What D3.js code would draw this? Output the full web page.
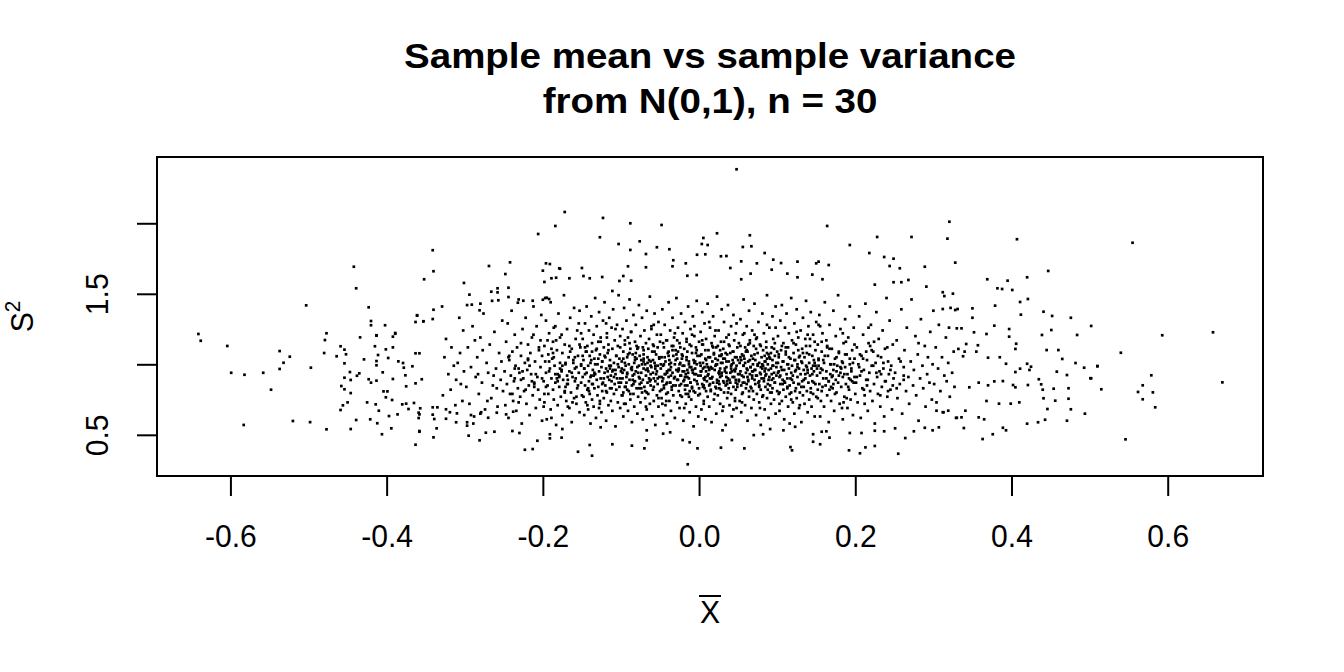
<!DOCTYPE html>
<html>
<head>
<meta charset="utf-8">
<script src="https://cdn.jsdelivr.net/npm/d3@7"></script>
<style>
  body { margin: 0; background: #fff; }
  svg text { font-family: "Liberation Sans", Arial, Helvetica, sans-serif; }
</style>
</head>
<body>
<div id="chart"></div>
<script>
// ---- data (sample mean, sample variance) ----
const titleLines = ["Sample mean vs sample variance", "from N(0,1), n = 30"];
const xTicks = [-0.6, -0.4, -0.2, 0, 0.2, 0.4, 0.6];
const xTickLabels = ["-0.6", "-0.4", "-0.2", "0.0", "0.2", "0.4", "0.6"];
const yTicks = [0.5, 1, 1.5, 2];
const yTickLabels = ["0.5", "", "1.5", ""];

const leftTail = [[-0.641,1.215],[-0.638,1.167],[-0.604,1.13],[-0.599,0.94],[-0.582,0.926],[-0.583,0.57],[-0.558,0.94],[-0.548,0.82],[-0.537,1.094],[-0.532,1.011],[-0.524,1.054],[-0.537,0.967],[-0.520,0.598],[-0.503,1.418],[-0.498,0.59],[-0.497,0.976],[-0.477,1.22],[-0.479,1.172],[-0.480,1.08],[-0.477,0.539],[-0.464,1.057],[-0.459,1.128],[-0.454,1.104],[-0.452,1.071],[-0.454,1.007],[-0.447,0.945],[-0.435,0.936],[-0.438,0.919],[-0.454,0.905],[-0.446,0.889],[-0.458,0.846],[-0.454,0.823],[-0.446,0.796],[-0.450,0.730],[-0.456,0.709],[-0.459,0.676],[-0.439,0.605],[-0.446,0.541],[-0.442,1.692],[-0.439,1.539],[-0.423,1.404],[-0.434,1.191],[-0.429,1.035],[-0.420,1.307],[-0.420,1.277],[-0.402,1.277],[-0.413,1.206],[-0.415,1.128],[-0.401,1.106],[-0.411,1.066],[-0.398,1.045],[-0.389,1.222],[-0.392,1.196],[-0.392,1.12],[-0.413,1.023],[-0.413,0.993],[-0.405,0.943],[-0.423,0.894],[-0.420,0.870],[-0.413,0.884],[-0.392,0.896],[-0.404,0.808],[-0.399,0.808],[-0.401,0.766],[-0.393,0.747],[-0.425,0.730],[-0.414,0.716],[-0.410,0.671],[-0.397,0.633],[-0.386,0.645],[-0.421,0.610],[-0.412,0.582],[-0.406,0.504],[-0.394,0.546],[-0.385,1.021],[-0.379,1.009],[-0.378,0.976],[-0.376,0.922],[-0.367,0.986],[-0.375,0.844],[-0.380,0.716],[-0.375,0.721],[-0.372,0.683],[-0.365,0.726],[-0.361,1.348],[-0.363,1.30],[-0.352,1.603],[-0.341,1.809],[-0.340,1.66],[-0.340,1.387],[-0.363,1.078],[-0.358,1.078],[-0.363,0.865],[-0.355,0.894],[-0.359,0.657],[-0.359,0.619],[-0.358,0.522],[-0.363,0.43],[-0.340,0.482],[-0.336,0.546],[-0.335,0.695],[-0.341,0.643],[-0.353,1.305],[-0.341,1.321],[-0.358,0.645],[-0.357,0.688],[-0.341,0.695],[-0.339,0.612],[-0.358,0.527]];

const upperTail = [[-0.184,1.981],[-0.206,1.924],[-0.242,1.723],[-0.269,1.697],[-0.248,1.64],[-0.301,1.577],[-0.196,1.716],[-0.191,1.711],[-0.2,1.664],[-0.179,1.681],[-0.198,1.584],[-0.183,1.614],[-0.258,1.539],[-0.258,1.51],[-0.266,1.515],[-0.244,1.543],[-0.244,1.477],[-0.294,1.494],[-0.291,1.423],[-0.280,1.43],[-0.281,1.383],[-0.257,1.454],[-0.232,1.437],[-0.225,1.451],[-0.213,1.451],[-0.2,1.458],[-0.195,1.472],[-0.192,1.463],[-0.361,1.345],[-0.353,1.305],[-0.389,1.217],[-0.413,1.203],
[0.048,2.383],[-0.172,2.08],[-0.123,2.038],[-0.088,2.0],[-0.048,1.988],[0.164,1.981],[0.023,1.929],[0.065,1.915],[0.0055,1.896],[-0.127,1.901],[-0.076,1.872],[-0.103,1.853],[-0.088,1.811],[-0.068,1.782],[-0.054,1.83],[-0.038,1.816],[0.0035,1.853],[0.011,1.846],[-0.0026,1.777],[0.008,1.78],[0.028,1.766],[0.035,1.768],[0.056,1.832],[0.067,1.837],[0.084,1.789],[0.095,1.742],[0.105,1.718],[0.126,1.728],[0.15,1.716],[0.153,1.728],[0.166,1.704],[-0.178,1.678],[-0.15,1.683],[-0.148,1.626],[-0.091,1.695],[-0.068,1.688],[-0.033,1.738],[-0.034,1.695],[-0.017,1.716],[-0.015,1.628],[-0.003,1.633],[0.040,1.683],[0.054,1.73],[0.066,1.643],[0.054,1.603],[0.074,1.716],[0.093,1.671],[0.113,1.643],[0.126,1.617],[0.145,1.636],[0.158,1.603],[-0.097,1.626],[-0.124,1.619],[-0.14,1.61],[-0.166,1.61],[-0.189,1.61],[-0.087,1.593],[-0.111,1.52],[-0.102,1.591],
[0.193,1.846],[0.218,1.789],[0.237,1.761],[0.249,1.749],[0.244,1.697],[0.257,1.681],[0.289,1.692],[0.272,1.903],[0.228,1.903],[0.259,1.582],[0.249,1.582],[0.268,1.598],[0.225,1.565],[0.291,1.551],[0.312,1.511],[0.314,1.484],[0.325,1.501],[0.3205,2.011],[0.318,1.891],[0.328,1.721]];

const rightTail = [[0.407,1.887],[0.447,1.662],[0.420,1.617],[0.369,1.603],[0.395,1.593],[0.382,1.539],[0.388,1.534],[0.401,1.527],[0.421,1.463],[0.411,1.442],[0.379,1.416],[0.331,1.392],[0.328,1.385],[0.312,1.392],[0.300,1.38],[0.350,1.397],[0.350,1.33],[0.412,1.352],[0.441,1.373],[0.452,1.343],[0.476,1.33],[0.502,1.272],[0.484,1.208],[0.451,1.243],[0.439,1.208],[0.397,1.25],[0.378,1.274],[0.368,1.215],[0.352,1.227],[0.336,1.255],[0.330,1.255],[0.320,1.26],[0.397,1.196],[0.406,1.146],[0.405,1.109],[0.342,1.144],[0.357,1.135],[0.332,1.109],[0.340,1.09],[0.355,1.09],[0.338,1.057],[0.370,1.047],[0.385,1.05],[0.393,1.004],[0.420,1.004],[0.411,0.969],[0.425,0.983],[0.423,0.96],[0.405,0.945],[0.445,1.101],[0.460,1.101],[0.465,1.038],[0.482,1.009],[0.493,0.976],[0.510,0.988],[0.471,0.924],[0.458,0.948],[0.435,0.894],[0.438,0.858],[0.421,0.853],[0.405,0.837],[0.402,0.853],[0.378,0.879],[0.389,0.881],[0.370,0.851],[0.358,0.870],[0.346,0.837],[0.440,0.82],[0.454,0.827],[0.473,0.83],[0.501,0.901],[0.441,0.759],[0.446,0.683],[0.456,0.742],[0.473,0.756],[0.476,0.681],[0.494,0.65],[0.471,0.6],[0.443,0.607],[0.434,0.589],[0.420,0.579],[0.410,0.73],[0.399,0.721],[0.384,0.721],[0.368,0.74],[0.393,0.532],[0.389,0.55],[0.376,0.504],[0.363,0.47],[0.365,0.61],[0.358,0.624],[0.339,0.548],[0.336,0.624],[0.330,0.621],[0.319,0.671],[0.341,0.671],[0.313,0.66],[0.304,0.671],
[0.555,1.862],[0.593,1.206],[0.658,1.227],[0.540,1.082],[0.515,0.823],[0.579,0.922],[0.670,0.872],[0.568,0.851],[0.562,0.804],[0.581,0.801],[0.568,0.752],[0.584,0.695],[0.546,0.468],[0.502,0.901],[0.510,0.986]];

const lowerTail = [[-0.0145,0.291],[-0.155,0.38],[-0.137,0.352],[-0.14,0.428],[-0.176,0.48],[-0.111,0.433],[-0.07,0.404],[-0.067,0.461],[-0.021,0.463],[-0.012,0.447],[-0.002,0.404],[0.028,0.409],[0.058,0.404],[0.042,0.463],[0.07,0.498],[0.117,0.413],[0.119,0.39],[0.146,0.451],[0.155,0.433],[0.108,0.532],[0.082,0.504],[-0.086,0.423],
[-0.295,0.494],[-0.281,0.461],[-0.273,0.515],[-0.262,0.522],[-0.239,0.527],[-0.230,0.513],[-0.223,0.394],[-0.213,0.399],[-0.207,0.458],[-0.191,0.475],[-0.191,0.504],[-0.297,0.589],[-0.297,0.565],[-0.324,0.614],[-0.311,0.589],[-0.310,0.652],[-0.292,0.64],[-0.28,0.65],[-0.270,0.621],[-0.259,0.657],[-0.247,0.645],[-0.238,0.664],[-0.324,0.681],
[0.255,0.366],[0.192,0.39],[0.206,0.369],[0.213,0.411],[0.225,0.421],[0.167,0.48],[0.163,0.525],[0.193,0.513],[0.208,0.513],[0.225,0.529],[0.237,0.525],[0.251,0.546],[0.264,0.477],[0.275,0.525],[0.289,0.55],[0.299,0.532],[0.307,0.553],
[-0.175,0.541],[-0.126,0.553],[-0.067,0.532],[-0.046,0.508],[-0.037,0.518],[0.030,0.532],[0.091,0.541],[0.123,0.557],[0.146,0.504],[0.157,0.522]];

const coreLeft = [[-0.328,0.78],[-0.321,0.93],[-0.317,1.12],[-0.312,0.71],[-0.309,1.01],[-0.305,0.86],[-0.302,1.24],[-0.326,1.05],[-0.319,0.66],[-0.314,0.99],[-0.307,1.33],[-0.303,0.74],[-0.324,1.18],[-0.311,0.89],[-0.306,1.08],[-0.318,0.82],[-0.301,0.95],[-0.329,1.41],
[-0.298,0.84],[-0.296,1.12],[-0.294,0.72],[-0.292,0.98],[-0.290,1.27],[-0.288,0.63],[-0.286,0.91],[-0.284,1.05],[-0.282,0.79],[-0.280,1.19],[-0.278,0.87],[-0.276,1.36],[-0.274,0.68],[-0.272,1.01],[-0.270,0.94],[-0.268,1.14],[-0.266,0.76],[-0.264,0.85],[-0.262,1.23],[-0.260,0.97],[-0.258,0.70],[-0.256,1.08],[-0.254,0.89],[-0.252,1.31],[-0.251,0.81],[-0.297,1.42],[-0.289,0.58],[-0.283,0.93],[-0.277,1.10],[-0.271,0.74],[-0.265,1.45],[-0.259,0.83],[-0.253,1.02],[-0.287,1.17],[-0.279,0.66],[-0.263,0.92],
[-0.249,0.95],[-0.248,0.71],[-0.247,1.16],[-0.246,0.86],[-0.245,1.29],[-0.244,0.62],[-0.243,1.03],[-0.242,0.79],[-0.241,0.92],[-0.240,1.38],[-0.239,1.09],[-0.238,0.74],[-0.237,0.88],[-0.236,1.21],[-0.235,0.99],[-0.234,0.67],[-0.233,1.12],[-0.232,0.83],[-0.231,1.46],[-0.230,0.94],[-0.229,0.77],[-0.228,1.06],[-0.227,0.58],[-0.226,1.25],[-0.225,0.90],[-0.224,0.81],[-0.223,1.01],[-0.222,1.33],[-0.221,0.72],[-0.220,0.96],[-0.219,1.14],[-0.218,0.85],[-0.217,0.64],[-0.216,1.08],[-0.215,0.93],[-0.214,1.19],[-0.213,0.78],[-0.212,1.41],[-0.211,0.87],[-0.210,1.02],[-0.209,0.69],[-0.208,1.27],[-0.207,0.91],[-0.206,0.82],[-0.205,1.10],[-0.204,0.75],[-0.203,0.98],[-0.202,1.35],[-0.201,0.60],[-0.244,1.05],[-0.236,0.97],[-0.228,0.89],[-0.219,1.04],[-0.211,0.84],[-0.203,1.17],
[-0.199,0.88],[-0.198,1.13],[-0.198,0.73],[-0.197,1.02],[-0.196,0.94],[-0.196,1.31],[-0.195,0.61],[-0.194,0.85],[-0.193,1.07],[-0.193,0.79],[-0.192,1.22],[-0.191,0.97],[-0.190,0.68],[-0.190,1.44],[-0.189,0.90],[-0.188,1.04],[-0.187,0.82],[-0.187,1.16],[-0.186,0.75],[-0.185,0.99],[-0.184,1.27],[-0.184,0.87],[-0.183,0.57],[-0.182,1.10],[-0.181,0.93],[-0.181,0.71],[-0.180,1.36],[-0.179,0.84],[-0.178,1.01],[-0.178,1.19],[-0.177,0.77],[-0.176,0.96],[-0.175,0.64],[-0.175,1.08],[-0.174,0.89],[-0.173,1.49],[-0.172,0.81],[-0.172,1.14],[-0.171,1.00],[-0.170,0.74],[-0.169,0.92],[-0.169,1.25],[-0.168,0.86],[-0.167,1.05],[-0.166,0.69],[-0.166,0.95],[-0.165,1.33],[-0.164,0.80],[-0.163,1.11],[-0.163,0.59],[-0.162,0.91],[-0.161,1.03],[-0.160,0.76],[-0.160,1.40],[-0.159,0.88],[-0.158,1.18],[-0.157,0.98],[-0.157,0.72],[-0.156,0.83],[-0.155,1.06],[-0.154,1.29],[-0.154,0.94],[-0.153,0.66],[-0.152,1.12],[-0.151,0.87],[-0.151,1.00],[-0.150,0.78],[-0.197,1.47],[-0.189,0.62],[-0.182,0.90],[-0.176,1.21],[-0.171,0.84],[-0.165,1.09],[-0.159,0.97],[-0.153,1.38],[-0.194,1.17],[-0.186,1.05],[-0.179,0.92],[-0.168,0.70],[-0.156,1.24]];

const coreMidLeft = [[-0.149,0.91],[-0.149,1.18],[-0.148,0.77],[-0.148,1.03],[-0.147,0.64],[-0.147,0.97],[-0.146,1.29],[-0.146,0.85],[-0.145,1.09],[-0.145,0.73],[-0.144,0.94],[-0.144,1.41],[-0.143,0.82],[-0.143,1.13],[-0.142,0.99],[-0.142,0.68],[-0.141,1.24],[-0.141,0.88],[-0.140,1.06],[-0.140,0.79],
[-0.139,0.58],[-0.139,1.01],[-0.138,0.92],[-0.138,1.34],[-0.137,0.75],[-0.137,1.15],[-0.136,0.86],[-0.136,0.96],[-0.135,1.21],[-0.135,0.70],[-0.134,1.04],[-0.134,0.83],[-0.133,1.47],[-0.133,0.93],[-0.132,1.10],[-0.132,0.62],[-0.131,0.89],[-0.131,1.27],[-0.130,0.78],[-0.130,1.00],
[-0.129,1.16],[-0.129,0.84],[-0.128,0.95],[-0.128,1.37],[-0.127,0.72],[-0.127,1.07],[-0.126,0.90],[-0.126,1.19],[-0.125,0.66],[-0.125,0.98],[-0.124,1.02],[-0.124,0.81],[-0.123,1.31],[-0.123,0.87],[-0.122,1.12],[-0.122,0.76],[-0.121,0.94],[-0.121,1.44],[-0.120,0.85],[-0.120,1.05],
[-0.119,0.60],[-0.119,0.97],[-0.118,1.22],[-0.118,0.80],[-0.117,1.08],[-0.117,0.91],[-0.116,0.71],[-0.116,1.14],[-0.115,0.99],[-0.115,1.33],[-0.114,0.83],[-0.114,1.03],[-0.113,0.74],[-0.113,0.92],[-0.112,1.26],[-0.112,0.88],[-0.111,1.11],[-0.111,0.67],[-0.110,0.96],[-0.110,1.39],
[-0.109,0.79],[-0.109,1.01],[-0.108,0.86],[-0.108,1.17],[-0.107,0.93],[-0.107,0.56],[-0.106,1.06],[-0.106,0.82],[-0.105,1.28],[-0.105,0.90],[-0.104,0.73],[-0.104,1.13],[-0.103,0.98],[-0.103,1.49],[-0.102,0.84],[-0.102,1.04],[-0.101,0.69],[-0.101,1.20],[-0.100,0.95],[-0.100,0.87],
[-0.099,1.02],[-0.099,0.78],[-0.098,1.25],[-0.098,0.90],[-0.097,0.63],[-0.097,1.09],[-0.096,0.96],[-0.096,1.40],[-0.095,0.84],[-0.095,1.14],[-0.094,0.72],[-0.094,0.99],[-0.093,1.31],[-0.093,0.87],[-0.092,1.05],[-0.092,0.93],[-0.091,0.67],[-0.091,1.19],[-0.090,0.81],[-0.090,1.00],
[-0.089,1.46],[-0.089,0.89],[-0.088,1.11],[-0.088,0.75],[-0.087,0.97],[-0.087,1.23],[-0.086,0.85],[-0.086,0.59],[-0.085,1.07],[-0.085,0.92],[-0.084,1.35],[-0.084,0.79],[-0.083,1.01],[-0.083,0.70],[-0.082,1.16],[-0.082,0.88],[-0.081,0.95],[-0.081,1.28],[-0.080,0.83],[-0.080,1.04],
[-0.079,0.65],[-0.079,0.98],[-0.078,1.12],[-0.078,0.77],[-0.077,1.42],[-0.077,0.91],[-0.076,1.06],[-0.076,0.86],[-0.075,0.73],[-0.075,1.20],[-0.074,0.94],[-0.074,1.03],[-0.073,0.80],[-0.073,1.33],[-0.072,0.89],[-0.072,0.61],[-0.071,1.10],[-0.071,0.97],[-0.070,1.24],[-0.070,0.84],
[-0.069,0.76],[-0.069,1.00],[-0.068,1.15],[-0.068,0.92],[-0.067,0.68],[-0.067,1.38],[-0.066,0.87],[-0.066,1.05],[-0.065,0.95],[-0.065,0.79],[-0.064,1.18],[-0.064,0.90],[-0.063,1.48],[-0.063,0.72],[-0.062,1.02],[-0.062,0.85],[-0.061,1.27],[-0.061,0.98],[-0.060,0.63],[-0.060,1.09],
[-0.059,0.82],[-0.059,0.94],[-0.058,1.13],[-0.058,0.74],[-0.057,1.01],[-0.057,1.36],[-0.056,0.88],[-0.056,0.57],[-0.055,1.07],[-0.055,0.93],[-0.054,0.78],[-0.054,1.21],[-0.053,0.99],[-0.053,0.86],[-0.052,1.30],[-0.052,0.70],[-0.051,1.04],[-0.051,0.91],[-0.050,1.16],[-0.050,0.81],
[-0.098,0.94],[-0.095,1.01],[-0.092,0.82],[-0.089,1.08],[-0.086,0.96],[-0.083,0.88],[-0.080,1.13],[-0.077,0.99],[-0.074,0.83],[-0.071,1.04],[-0.068,0.96],[-0.065,1.11],[-0.062,0.89],[-0.059,1.03],[-0.056,0.97],[-0.053,1.12],[-0.097,0.80],[-0.058,0.90]];

const coreCentre = [[-0.049,0.97],[-0.049,1.21],[-0.048,0.76],[-0.048,1.05],[-0.047,0.88],[-0.047,1.39],[-0.046,0.64],[-0.046,0.99],[-0.045,1.12],[-0.045,0.83],[-0.044,0.93],[-0.044,1.28],[-0.043,0.71],[-0.043,1.02],[-0.042,0.86],[-0.042,1.17],[-0.041,0.95],[-0.041,0.58],[-0.040,1.08],[-0.040,0.80],
[-0.039,1.44],[-0.039,0.91],[-0.038,1.03],[-0.038,0.74],[-0.037,1.24],[-0.037,0.87],[-0.036,0.98],[-0.036,0.67],[-0.035,1.13],[-0.035,0.84],[-0.034,1.33],[-0.034,0.94],[-0.033,1.06],[-0.033,0.78],[-0.032,0.90],[-0.032,1.19],[-0.031,0.62],[-0.031,1.00],[-0.030,0.85],[-0.030,1.10],
[-0.029,0.96],[-0.029,1.47],[-0.028,0.73],[-0.028,1.04],[-0.027,0.89],[-0.027,1.26],[-0.026,0.81],[-0.026,0.97],[-0.025,1.15],[-0.025,0.69],[-0.024,1.01],[-0.024,0.92],[-0.023,1.36],[-0.023,0.86],[-0.022,1.07],[-0.022,0.77],[-0.021,0.95],[-0.021,1.22],[-0.020,0.60],[-0.020,0.88],
[-0.019,1.11],[-0.019,0.99],[-0.018,0.82],[-0.018,1.30],[-0.017,0.93],[-0.017,0.72],[-0.016,1.05],[-0.016,1.18],[-0.015,0.85],[-0.015,0.96],[-0.014,1.41],[-0.014,0.79],[-0.013,1.02],[-0.013,0.90],[-0.012,0.66],[-0.012,1.14],[-0.011,0.87],[-0.011,1.25],[-0.010,0.98],[-0.010,0.75],
[-0.009,1.08],[-0.009,0.84],[-0.008,1.34],[-0.008,0.94],[-0.007,0.56],[-0.007,1.03],[-0.006,0.89],[-0.006,1.20],[-0.005,0.80],[-0.005,0.97],[-0.004,1.12],[-0.004,0.70],[-0.003,1.00],[-0.003,1.45],[-0.002,0.86],[-0.002,1.06],[-0.001,0.92],[-0.001,0.63],[0.000,1.16],[0.000,0.83],
[-0.048,0.91],[-0.045,1.00],[-0.042,0.79],[-0.039,1.09],[-0.036,0.92],[-0.033,0.85],[-0.030,1.03],[-0.027,0.95],[-0.024,0.78],[-0.021,1.06],[-0.018,0.91],[-0.015,1.09],[-0.012,0.81],[-0.009,0.96],[-0.006,1.01],[-0.003,0.88],[-0.046,1.15],[-0.037,0.96],[-0.028,1.17],[-0.019,0.89],[-0.010,1.13],[-0.004,0.93],[-0.041,0.87],[-0.025,1.00],[-0.013,0.77],
[0.001,1.01],[0.001,0.79],[0.002,1.23],[0.002,0.92],[0.003,0.68],[0.003,1.07],[0.004,0.86],[0.004,1.37],[0.005,0.97],[0.005,1.14],[0.006,0.74],[0.006,0.90],[0.007,1.29],[0.007,0.83],[0.008,1.04],[0.008,0.61],[0.009,0.95],[0.009,1.18],[0.010,0.88],[0.010,1.00],
[0.011,0.77],[0.011,1.43],[0.012,0.93],[0.012,1.10],[0.013,0.85],[0.013,0.70],[0.014,1.05],[0.014,1.26],[0.015,0.98],[0.015,0.81],[0.016,1.15],[0.016,0.59],[0.017,0.91],[0.017,1.02],[0.018,1.34],[0.018,0.87],[0.019,0.75],[0.019,1.08],[0.020,0.96],[0.020,1.20],
[0.021,0.84],[0.021,0.99],[0.022,0.65],[0.022,1.12],[0.023,0.89],[0.023,1.48],[0.024,1.03],[0.024,0.78],[0.025,0.94],[0.025,1.24],[0.026,0.86],[0.026,1.06],[0.027,0.72],[0.027,0.97],[0.028,1.16],[0.028,0.82],[0.029,1.39],[0.029,0.92],[0.030,1.01],[0.030,0.67],
[0.031,0.88],[0.031,1.11],[0.032,0.80],[0.032,1.30],[0.033,0.95],[0.033,1.04],[0.034,0.57],[0.034,0.85],[0.035,1.19],[0.035,0.98],[0.036,0.76],[0.036,1.07],[0.037,0.90],[0.037,1.42],[0.038,0.83],[0.038,1.02],[0.039,0.71],[0.039,1.13],[0.040,0.94],[0.040,0.87],
[0.041,1.27],[0.041,0.79],[0.042,1.00],[0.042,0.63],[0.043,1.09],[0.043,0.91],[0.044,1.35],[0.044,0.84],[0.045,0.96],[0.045,1.17],[0.046,0.74],[0.046,1.05],[0.047,0.89],[0.047,1.22],[0.048,0.99],[0.048,0.69],[0.049,1.12],[0.049,0.86],[0.050,1.03],[0.050,0.93],
[0.002,0.95],[0.005,0.84],[0.008,1.10],[0.011,0.98],[0.014,0.90],[0.017,1.13],[0.020,0.79],[0.023,1.00],[0.026,0.93],[0.029,1.07],[0.032,0.87],[0.035,0.91],[0.038,1.14],[0.041,0.97],[0.044,1.01],[0.047,0.82],[0.004,1.17],[0.013,0.96],[0.022,0.83],[0.031,1.04],[0.040,1.08],[0.046,0.95],[0.009,0.81],[0.027,1.10],[0.036,0.88]];

const coreMidRight = [[0.051,0.88],[0.051,1.15],[0.052,0.74],[0.052,1.01],[0.053,0.95],[0.053,1.32],[0.054,0.66],[0.054,0.85],[0.055,1.07],[0.055,0.92],[0.056,1.21],[0.056,0.80],[0.057,0.99],[0.057,1.46],[0.058,0.87],[0.058,1.04],[0.059,0.71],[0.059,1.12],[0.060,0.94],[0.060,0.83],
[0.061,1.27],[0.061,0.97],[0.062,0.60],[0.062,1.09],[0.063,0.89],[0.063,1.02],[0.064,0.77],[0.064,1.38],[0.065,0.93],[0.065,1.17],[0.066,0.84],[0.066,0.98],[0.067,0.69],[0.067,1.06],[0.068,0.90],[0.068,1.24],[0.069,0.81],[0.069,1.00],[0.070,1.13],[0.070,0.75],
[0.071,0.96],[0.071,1.43],[0.072,0.86],[0.072,1.03],[0.073,0.64],[0.073,0.92],[0.074,1.19],[0.074,0.79],[0.075,1.08],[0.075,0.99],[0.076,0.87],[0.076,1.30],[0.077,0.73],[0.077,1.01],[0.078,0.94],[0.078,1.14],[0.079,0.82],[0.079,0.57],[0.080,1.05],[0.080,0.90],
[0.081,1.36],[0.081,0.97],[0.082,0.78],[0.082,1.10],[0.083,0.88],[0.083,1.22],[0.084,0.68],[0.084,0.95],[0.085,1.02],[0.085,0.84],[0.086,1.16],[0.086,0.93],[0.087,0.76],[0.087,1.49],[0.088,1.00],[0.088,0.86],[0.089,1.07],[0.089,0.62],[0.090,0.91],[0.090,1.26],
[0.091,0.80],[0.091,1.04],[0.092,0.97],[0.092,0.72],[0.093,1.12],[0.093,0.89],[0.094,1.34],[0.094,0.83],[0.095,0.99],[0.095,1.18],[0.096,0.75],[0.096,0.94],[0.097,1.06],[0.097,0.87],[0.098,1.41],[0.098,0.65],[0.099,1.01],[0.099,0.92],[0.100,0.81],[0.100,1.09],
[0.053,1.05],[0.057,0.91],[0.061,0.86],[0.065,1.03],[0.069,0.95],[0.073,1.11],[0.077,0.85],[0.081,1.00],[0.085,0.92],[0.089,0.96],[0.093,0.80],[0.097,1.15],[0.055,0.79],[0.063,1.14],[0.071,0.89],[0.079,0.98],[0.087,1.08],[0.095,0.90],
[0.101,0.94],[0.101,1.20],[0.102,0.79],[0.102,1.05],[0.103,0.67],[0.103,0.91],[0.104,1.31],[0.104,0.86],[0.105,1.10],[0.105,0.98],[0.106,0.74],[0.106,1.42],[0.107,0.89],[0.107,1.02],[0.108,0.82],[0.108,1.15],[0.109,0.61],[0.109,0.96],[0.110,1.26],[0.110,0.87],
[0.111,1.07],[0.111,0.77],[0.112,0.93],[0.112,1.36],[0.113,0.84],[0.113,1.00],[0.114,0.70],[0.114,1.12],[0.115,0.97],[0.115,1.22],[0.116,0.85],[0.116,0.58],[0.117,1.04],[0.117,0.90],[0.118,1.47],[0.118,0.80],[0.119,0.99],[0.119,1.17],[0.120,0.73],[0.120,0.92],
[0.121,1.08],[0.121,0.87],[0.122,1.29],[0.122,0.65],[0.123,0.95],[0.123,1.03],[0.124,0.83],[0.124,1.14],[0.125,0.76],[0.125,1.39],[0.126,0.91],[0.126,1.00],[0.127,0.86],[0.127,1.19],[0.128,0.69],[0.128,0.97],[0.129,1.06],[0.129,0.80],[0.130,1.24],[0.130,0.93],
[0.131,0.59],[0.131,1.02],[0.132,0.88],[0.132,1.11],[0.133,0.78],[0.133,1.33],[0.134,0.96],[0.134,0.84],[0.135,1.05],[0.135,0.72],[0.136,1.18],[0.136,0.90],[0.137,1.45],[0.137,0.99],[0.138,0.81],[0.138,1.08],[0.139,0.94],[0.139,0.66],[0.140,1.27],[0.140,0.87],
[0.141,1.01],[0.141,0.75],[0.142,1.13],[0.142,0.92],[0.143,0.83],[0.143,1.37],[0.144,0.97],[0.144,0.70],[0.145,1.06],[0.145,0.88],[0.146,1.21],[0.146,0.79],[0.147,0.95],[0.147,1.03],[0.148,0.63],[0.148,1.16],[0.149,0.86],[0.149,0.99],[0.150,1.30],[0.150,0.77]];

const coreRight = [[0.151,0.92],[0.152,1.14],[0.152,0.76],[0.153,1.03],[0.154,0.86],[0.154,1.35],[0.155,0.63],[0.156,0.97],[0.157,1.09],[0.157,0.81],[0.158,1.22],[0.159,0.90],[0.160,0.70],[0.160,1.01],[0.161,1.44],[0.162,0.85],[0.163,0.95],[0.163,1.17],[0.164,0.78],[0.165,1.06],
[0.166,0.88],[0.166,0.59],[0.167,1.28],[0.168,0.93],[0.169,1.00],[0.169,0.74],[0.170,1.11],[0.171,0.83],[0.172,1.38],[0.172,0.96],[0.173,0.67],[0.174,1.04],[0.175,0.89],[0.175,1.20],[0.176,0.80],[0.177,0.99],[0.178,1.49],[0.178,0.87],[0.179,1.08],[0.180,0.72],
[0.181,0.94],[0.181,1.25],[0.182,0.84],[0.183,1.02],[0.184,0.61],[0.184,0.91],[0.185,1.15],[0.186,0.77],[0.187,1.32],[0.187,0.98],[0.188,0.86],[0.189,1.07],[0.190,0.69],[0.190,0.93],[0.191,1.19],[0.192,0.82],[0.193,1.00],[0.193,1.41],[0.194,0.75],[0.195,0.95],
[0.196,1.10],[0.196,0.88],[0.197,0.64],[0.198,1.26],[0.199,0.91],[0.199,1.04],[0.200,0.79],[0.153,0.99],[0.158,0.84],[0.164,1.12],[0.170,0.91],[0.176,1.05],[0.182,0.97],[0.188,1.16],[0.194,0.89],[0.155,1.27],[0.167,0.82],[0.179,0.92],[0.185,0.73],[0.197,1.01],
[0.201,0.87],[0.202,1.12],[0.203,0.73],[0.204,1.00],[0.205,1.34],[0.206,0.92],[0.207,0.62],[0.208,1.06],[0.209,0.83],[0.210,1.21],[0.211,0.96],[0.212,0.78],[0.213,1.43],[0.214,0.89],[0.215,1.03],[0.216,0.67],[0.217,1.15],[0.218,0.94],[0.219,0.81],[0.220,1.28],
[0.221,0.99],[0.222,0.74],[0.223,1.09],[0.224,0.86],[0.225,0.58],[0.226,1.01],[0.227,1.37],[0.228,0.91],[0.229,0.79],[0.230,1.18],[0.231,0.95],[0.232,0.70],[0.233,1.05],[0.234,0.84],[0.235,1.24],[0.236,0.97],[0.237,0.63],[0.238,1.11],[0.239,0.88],[0.240,1.47],
[0.241,0.77],[0.242,1.02],[0.243,0.93],[0.244,1.31],[0.245,0.82],[0.246,0.99],[0.247,0.68],[0.248,1.14],[0.249,0.90],[0.205,0.98],[0.215,0.85],[0.224,1.16],[0.233,0.93],[0.242,0.81],[0.210,1.04],
[0.251,0.94],[0.253,1.17],[0.254,0.76],[0.256,1.04],[0.257,0.86],[0.259,1.39],[0.260,0.65],[0.262,0.98],[0.263,1.10],[0.265,0.81],[0.266,1.26],[0.268,0.91],[0.269,0.72],[0.271,1.02],[0.272,1.46],[0.274,0.85],[0.275,0.96],[0.277,1.20],[0.278,0.78],[0.280,1.07],
[0.281,0.60],[0.283,0.90],[0.284,1.32],[0.286,0.99],[0.287,0.83],[0.289,1.13],[0.290,0.70],[0.292,0.93],[0.293,1.05],[0.295,0.87],[0.296,1.23],[0.298,0.75],[0.299,1.00],[0.262,0.89],[0.281,1.15],
[0.301,0.86],[0.303,1.12],[0.304,0.73],[0.306,0.97],[0.307,1.28],[0.309,0.81],[0.311,1.05],[0.312,0.66],[0.314,0.92],[0.316,1.19],[0.317,0.88],[0.319,1.01],[0.321,0.77],[0.322,1.40],[0.324,0.94],[0.326,1.09],[0.327,0.84],[0.329,0.62]];

// the darkest band of the cloud, around S^2 = 0.7 .. 1.3
const coreDense = [[-0.231,0.97],[-0.187,1.08],[-0.142,0.83],[-0.118,1.19],[-0.093,0.91],[-0.071,1.02],[-0.052,0.76],[-0.033,1.13],[-0.014,0.94],[0.006,0.85],[0.019,1.07],[0.041,0.99],[0.058,1.22],[0.077,0.88],[0.094,1.03],[0.116,0.79],[0.139,0.96],[0.167,1.11],[0.198,0.87],[0.236,1.01],
[-0.214,0.88],[-0.176,0.95],[-0.153,1.14],[-0.127,0.74],[-0.104,1.00],[-0.084,0.86],[-0.061,1.25],[-0.043,0.93],[-0.022,1.04],[-0.007,0.81],[0.013,0.97],[0.032,1.16],[0.049,0.84],[0.068,0.95],[0.086,1.12],[0.104,0.92],[0.128,1.05],[0.152,0.82],[0.181,0.98],[0.219,1.13],
[-0.243,1.06],[-0.198,0.79],[-0.161,1.01],[-0.135,0.92],[-0.112,0.83],[-0.089,1.15],[-0.066,0.97],[-0.047,0.72],[-0.028,0.89],[-0.003,1.10],[0.016,0.90],[0.037,0.80],[0.054,1.03],[0.073,1.18],[0.091,0.85],[0.111,1.09],[0.134,0.89],[0.159,1.03],[0.189,0.76],[0.227,0.94],
[-0.222,0.82],[-0.183,1.17],[-0.147,0.97],[-0.121,1.06],[-0.098,0.78],[-0.078,0.94],[-0.057,1.09],[-0.038,1.00],[-0.018,0.85],[0.002,0.99],[0.023,0.87],[0.044,1.09],[0.062,0.91],[0.081,0.77],[0.099,0.98],[0.121,1.15],[0.145,0.93],[0.172,0.86],[0.206,1.07],[0.248,0.85],
[-0.205,1.12],[-0.169,0.86],[-0.138,1.03],[-0.115,0.89],[-0.091,1.07],[-0.069,0.81],[-0.049,1.00],[-0.026,0.96],[-0.009,1.21],[0.011,0.92],[0.028,1.01],[0.046,0.76],[0.066,0.98],[0.084,1.06],[0.107,0.86],[0.126,0.98],[0.149,1.10],[0.176,0.95],[0.211,0.82],[0.258,1.02],
[-0.236,0.90],[-0.192,1.02],[-0.157,0.77],[-0.131,1.11],[-0.107,0.96],[-0.082,1.03],[-0.063,0.88],[-0.041,1.17],[-0.021,0.99],[-0.001,0.78],[0.018,1.12],[0.035,0.94],[0.056,0.87],[0.075,1.00],[0.093,0.93],[0.113,0.83],[0.137,1.13],[0.163,0.90],[0.193,1.04],[0.232,0.78],
[-0.217,0.99],[-0.179,0.91],[-0.149,1.06],[-0.124,0.86],[-0.101,1.12],[-0.076,0.90],[-0.054,0.95],[-0.035,0.82],[-0.016,1.03],[0.004,1.14],[0.026,0.83],[0.043,1.03],[0.061,1.10],[0.079,0.93],[0.101,1.01],[0.119,0.89],[0.143,0.80],[0.168,1.00],[0.202,0.91],[0.241,1.12],
[-0.196,0.84],[-0.166,1.13],[-0.139,0.91],[-0.113,0.99],[-0.094,0.84],[-0.072,1.12],[-0.051,1.05],[-0.031,0.91],[-0.011,0.87],[0.009,1.03],[0.027,0.91],[0.047,0.97],[0.064,0.81],[0.087,1.04],[0.106,1.13],[0.124,0.96],[0.148,1.01],[0.174,0.79],[0.214,1.09],[0.262,0.92],
[-0.228,1.15],[-0.184,0.93],[-0.155,0.85],[-0.129,1.04],[-0.109,0.91],[-0.086,0.98],[-0.067,0.80],[-0.044,1.05],[-0.024,1.12],[-0.006,0.93],[0.014,0.86],[0.034,1.08],[0.052,0.93],[0.071,1.07],[0.089,0.89],[0.108,1.02],[0.131,0.84],[0.157,1.16],[0.186,0.93],[0.223,0.99],
[-0.209,0.93],[-0.172,0.80],[-0.144,1.09],[-0.119,0.81],[-0.097,1.04],[-0.074,0.87],[-0.059,1.14],[-0.037,0.87],[-0.019,0.95],[0.001,1.06],[0.021,1.04],[0.039,0.89],[0.059,1.01],[0.077,0.84],[0.096,1.11],[0.118,0.94],[0.141,1.07],[0.166,0.88],[0.199,1.14],[0.245,0.96],
[-0.239,0.79],[-0.201,1.06],[-0.163,0.94],[-0.137,0.86],[-0.116,1.10],[-0.092,0.94],[-0.071,1.07],[-0.046,0.90],[-0.029,1.07],[-0.012,0.98],[0.007,0.89],[0.024,1.13],[0.042,0.95],[0.063,0.88],[0.082,0.99],[0.102,1.07],[0.123,0.81],[0.151,0.97],[0.179,1.09],[0.216,0.89],
[-0.219,1.03],[-0.181,0.88],[-0.151,0.99],[-0.126,1.16],[-0.103,0.87],[-0.081,1.08],[-0.062,0.93],[-0.039,0.96],[-0.017,0.79],[0.003,0.95],[0.022,1.00],[0.038,1.21],[0.057,0.99],[0.074,0.92],[0.092,1.08],[0.114,1.00],[0.136,0.93],[0.161,1.06],[0.191,0.84],[0.229,1.06],
[-0.201,0.90],[-0.171,1.01],[-0.141,0.81],[-0.117,0.95],[-0.095,1.17],[-0.077,0.83],[-0.056,0.99],[-0.034,1.10],[-0.013,1.00],[0.008,0.91],[0.029,0.94],[0.048,1.05],[0.067,0.83],[0.085,0.97],[0.103,0.80],[0.127,1.10],[0.147,0.87],[0.173,1.00],[0.208,0.95],[0.253,0.83],
[-0.226,0.95],[-0.189,1.11],[-0.158,0.90],[-0.133,1.00],[-0.111,0.95],[-0.088,0.79],[-0.064,1.03],[-0.045,0.85],[-0.023,0.92],[-0.004,1.08],[0.017,0.97],[0.036,0.86],[0.053,1.13],[0.072,0.96],[0.090,1.05],[0.109,0.88],[0.132,1.01],[0.155,0.94],[0.184,1.01],[0.221,1.10],
[-0.211,0.86],[-0.175,0.99],[-0.146,1.12],[-0.122,0.90],[-0.099,0.97],[-0.079,1.11],[-0.058,0.84],[-0.036,1.01],[-0.016,1.16],[0.005,1.01],[0.025,0.88],[0.045,0.91],[0.065,1.15],[0.083,0.90],[0.102,0.95],[0.122,1.03],[0.142,1.18],[0.169,0.84],[0.195,0.97],[0.238,0.88],
[-0.199,0.70],[-0.162,0.73],[-0.128,0.69],[-0.096,0.72],[-0.068,0.70],[-0.042,0.74],[-0.019,0.69],[0.006,0.72],[0.031,0.70],[0.055,0.73],[0.078,0.69],[0.103,0.72],[0.129,0.71],[0.156,0.74],[0.183,0.69],[0.212,0.72],[-0.231,0.73],[-0.143,0.71],[0.044,0.68],[0.118,0.75],
[-0.186,1.26],[-0.151,1.22],[-0.119,1.29],[-0.087,1.23],[-0.058,1.28],[-0.031,1.22],[-0.006,1.27],[0.021,1.24],[0.048,1.29],[0.071,1.21],[0.098,1.26],[0.125,1.23],[0.153,1.28],[0.184,1.22],[0.217,1.26],[-0.212,1.21],[-0.107,1.25],[0.013,1.30],[0.087,1.28],[0.139,1.21],
[-0.178,0.97],[-0.134,0.94],[-0.106,1.06],[-0.083,0.93],[-0.053,0.90],[-0.027,1.09],[-0.008,0.96],[0.012,1.05],[0.033,0.97],[0.051,0.89],[0.069,1.04],[0.088,0.82],[0.106,0.96],[0.133,1.08],[0.158,0.96],[0.187,1.07],[-0.159,1.05],[-0.062,0.99],[0.057,1.06],[0.113,0.90],
[-0.168,0.89],[-0.124,1.02],[-0.101,0.90],[-0.073,1.00],[-0.048,0.82],[-0.025,0.85],[-0.005,1.02],[0.015,0.82],[0.035,1.02],[0.062,0.96],[0.079,1.13],[0.097,0.87],[0.115,1.05],[0.138,0.98],[0.164,1.13],[0.192,0.90],[-0.146,0.93],[-0.039,1.06],[0.026,0.95],[0.094,0.99],
[-0.192,0.95],[-0.137,1.09],[-0.114,0.97],[-0.085,0.89],[-0.066,1.01],[-0.041,0.94],[-0.015,0.91],[0.007,0.98],[0.028,1.06],[0.047,0.87],[0.068,0.92],[0.084,1.02],[0.111,1.12],[0.128,0.86],[0.146,0.99],[0.171,0.92],[-0.082,1.05],[-0.009,0.83],[0.060,1.09],[0.153,1.04]];

const samples = [].concat(leftTail, upperTail, rightTail, lowerTail,
  coreLeft, coreMidLeft, coreCentre, coreMidRight, coreRight, coreDense);

// ---- drawing ----
const width = 1344, height = 672;
const box = { left: 157, right: 1263, top: 157, bottom: 476 };
const axisFont = 32, axisStretch = 0.94;   // tick labels are a little narrower than Liberation Sans
const titleFont = 35, titleStretch = 1.1;

const svg = d3.select("#chart").append("svg")
  .attr("width", width)
  .attr("height", height)
  .style("background", "#fff");

const x = d3.scaleLinear().domain([-0.694, 0.722]).range([box.left, box.right]);
const y = d3.scaleLinear().domain([0.208, 2.470]).range([box.bottom, box.top]);

const dot = 2.7;
svg.append("g")
  .selectAll("rect")
  .data(samples)
  .enter().append("rect")
  .attr("x", d => x(d[0]) - dot / 2)
  .attr("y", d => y(d[1]) - dot / 2)
  .attr("width", dot)
  .attr("height", dot)
  .attr("fill", "#000");

svg.append("rect")
  .attr("x", box.left)
  .attr("y", box.top)
  .attr("width", box.right - box.left)
  .attr("height", box.bottom - box.top)
  .attr("fill", "none")
  .attr("stroke", "#000")
  .attr("stroke-width", 2);

const xAxis = svg.append("g")
  .attr("transform", `translate(0,${box.bottom})`)
  .call(d3.axisBottom(x).tickValues(xTicks)
    .tickFormat((d, i) => xTickLabels[i])
    .tickSize(20).tickPadding(28));
xAxis.select(".domain").remove();
xAxis.selectAll("line").attr("stroke-width", 2);
xAxis.selectAll("text")
  .attr("font-size", axisFont).attr("fill", "#000")
  .attr("transform", `scale(${axisStretch},1)`)
  .style("font-family", "'Liberation Sans', Arial, sans-serif");

const yAxis = svg.append("g")
  .attr("transform", `translate(${box.left},0)`)
  .call(d3.axisLeft(y).tickValues(yTicks)
    .tickFormat((d, i) => yTickLabels[i])
    .tickSize(20));
yAxis.select(".domain").remove();
yAxis.selectAll("line").attr("stroke-width", 2);
yAxis.selectAll("text")
  .attr("x", null).attr("dy", null)
  .attr("text-anchor", "middle")
  .attr("transform", `translate(-49,0) rotate(-90) scale(${axisStretch},1)`)
  .attr("font-size", axisFont).attr("fill", "#000")
  .style("font-family", "'Liberation Sans', Arial, sans-serif");

// title
svg.append("g").selectAll("text")
  .data(titleLines)
  .enter().append("text")
  .attr("transform", (d, i) => `translate(${(box.left + box.right) / 2},${68 + i * 45}) scale(${titleStretch},1)`)
  .attr("text-anchor", "middle")
  .attr("font-size", titleFont)
  .attr("font-weight", "bold")
  .text(d => d);

// x label: X with a bar
svg.append("text")
  .attr("transform", `translate(${(box.left + box.right) / 2},623) scale(${axisStretch},1)`)
  .attr("text-anchor", "middle")
  .attr("font-size", axisFont)
  .text("X");
svg.append("line")
  .attr("x1", 699).attr("x2", 721)
  .attr("y1", 596).attr("y2", 596)
  .attr("stroke", "#000").attr("stroke-width", 2);

// y label: S squared
const yLab = svg.append("text")
  .attr("transform", `translate(33,${(box.top + box.bottom) / 2}) rotate(-90) scale(${axisStretch},1)`)
  .attr("text-anchor", "middle")
  .attr("font-size", axisFont);
yLab.append("tspan").text("S");
yLab.append("tspan").attr("font-size", 22).attr("dy", -13).text("2");
</script>
</body>
</html>
